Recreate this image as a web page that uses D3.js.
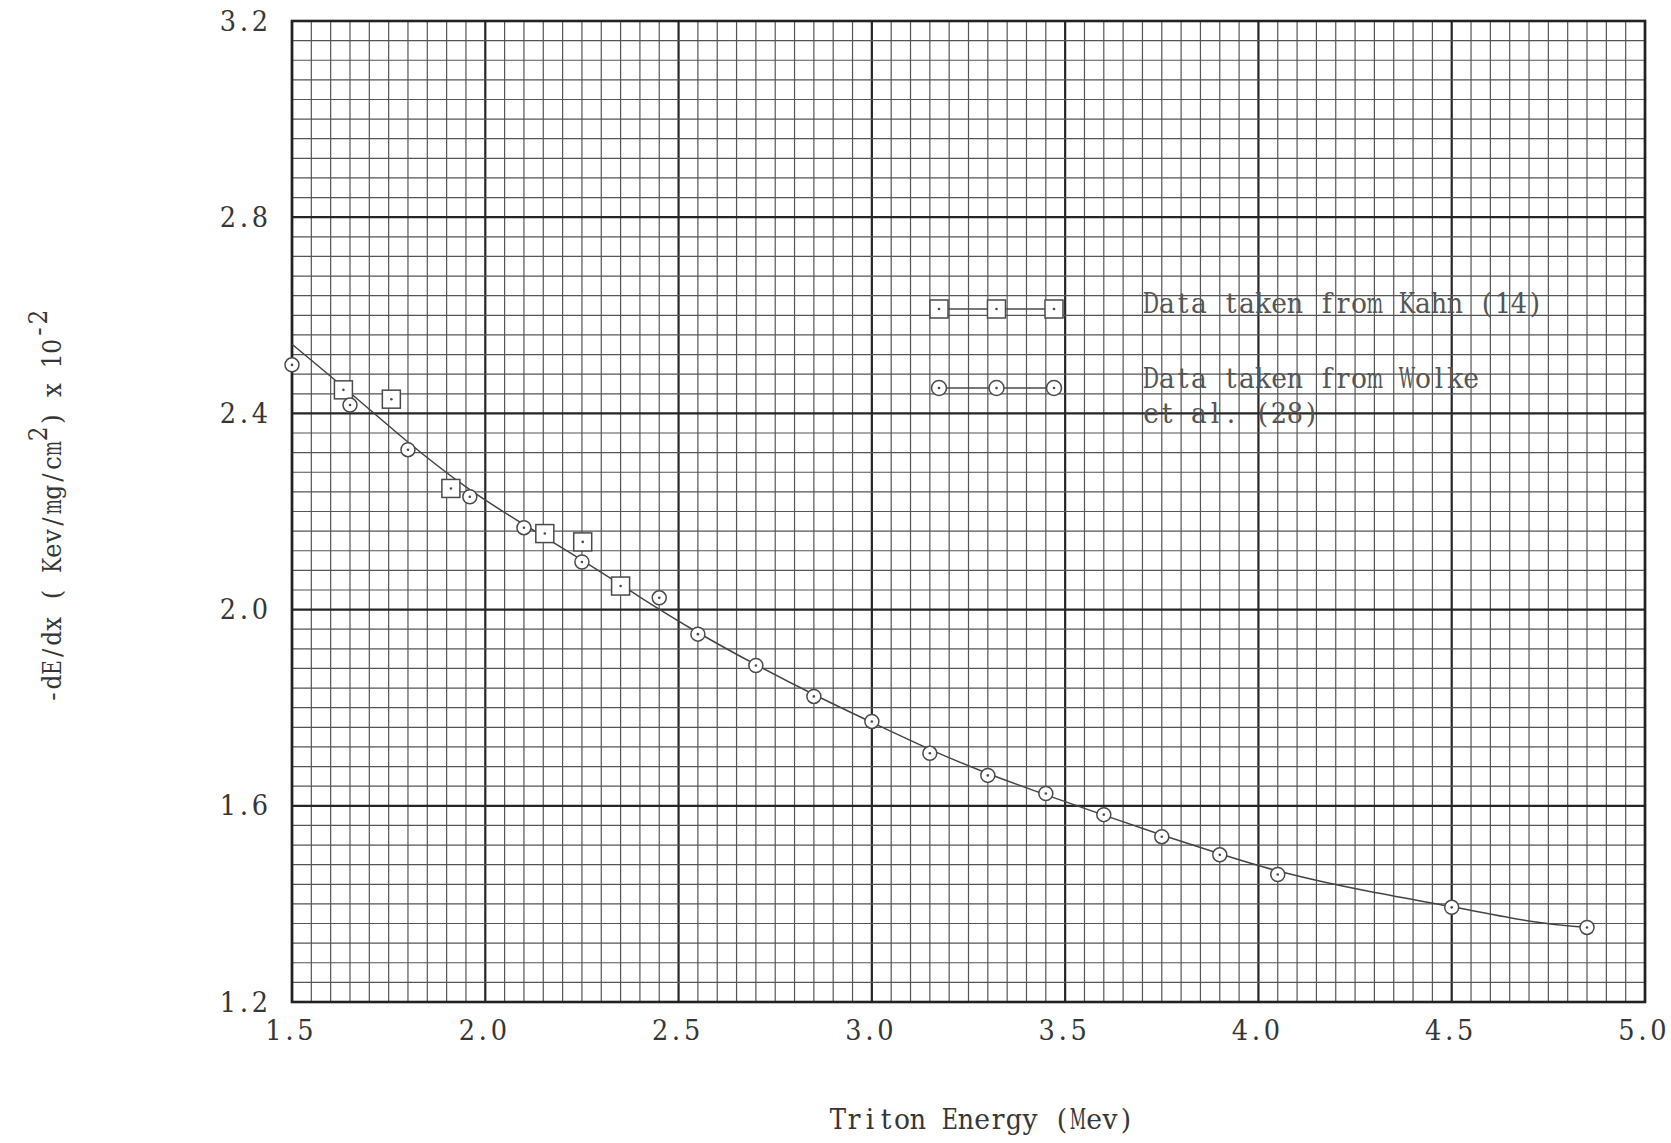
<!DOCTYPE html>
<html>
<head>
<meta charset="utf-8">
<script src="https://cdn.jsdelivr.net/npm/d3@7"></script>
<style>
  html, body { margin: 0; padding: 0; background: #ffffff; }
  svg { display: block; }
</style>
</head>
<body>
<svg id="chart" width="1671" height="1143"></svg>
<script>
// Stopping power of tritons, -dE/dx (Kev/mg/cm^2 x 10^-2) versus energy (Mev)

// Wolke et al. (28): circles
const wolkeEnergy = [1.50, 1.65, 1.80, 1.96, 2.10, 2.25, 2.45, 2.55, 2.70, 2.85, 3.00, 3.15, 3.30, 3.45, 3.60, 3.75, 3.90, 4.05, 4.50, 4.85];
const wolkeDedx   = [2.499, 2.417, 2.326, 2.230, 2.167, 2.097, 2.024, 1.950, 1.886, 1.823, 1.772, 1.707, 1.662, 1.625, 1.582, 1.537, 1.500, 1.460, 1.393, 1.352];

// Kahn (14): squares
const kahnEnergy = [1.633, 1.757, 1.911, 2.154, 2.252, 2.350];
const kahnDedx   = [2.448, 2.429, 2.247, 2.155, 2.138, 2.048];

// Smooth curve drawn through the data
const curveEnergy = [1.50, 1.65, 1.80, 1.95, 2.10, 2.25, 2.40, 2.55, 2.70, 2.85, 3.00, 3.15, 3.30, 3.45, 3.60, 3.75, 3.90, 4.05, 4.28, 4.50, 4.72, 4.84];
const curveDedx   = [2.541, 2.443, 2.340, 2.247, 2.173, 2.102, 2.025, 1.952, 1.887, 1.826, 1.770, 1.714, 1.665, 1.622, 1.581, 1.540, 1.502, 1.465, 1.425, 1.395, 1.360, 1.353];

// Axes and labels
const xTicks = [1.5, 2.0, 2.5, 3.0, 3.5, 4.0, 4.5, 5.0];
const yTicks = [1.2, 1.6, 2.0, 2.4, 2.8, 3.2];
const xTitle = "Triton Energy (Mev)";
// y title pieces: [text, raised?]
const yTitleParts = [["-dE/dx ( Kev/mg/cm", false], ["2", true], [") x 10", false], ["-2", true]];
const legendKahn  = ["Data taken from Kahn (14)"];
const legendWolke = ["Data taken from Wolke", "et al. (28)"];

const plot = { left: 292, right: 1645, top: 21, bottom: 1002 };
const svg = d3.select("#chart");

const x = d3.scaleLinear().domain([1.5, 5.0]).range([plot.left, plot.right]);
const y = d3.scaleLinear().domain([1.2, 3.2]).range([plot.bottom, plot.top]);

// ---- graph-paper grid: 0.05 Mev by 0.04 divisions, heavy rule every 10 ----
const xMinor = d3.range(0, 71).map(i => +(1.5 + i * 0.05).toFixed(3));
const yMinor = d3.range(0, 51).map(i => +(1.2 + i * 0.04).toFixed(3));

const grid = svg.append("g");
grid.selectAll("line.vx").data(xMinor.map((v, i) => ({ v, i })))
  .join("line")
  .attr("x1", d => x(d.v)).attr("x2", d => x(d.v))
  .attr("y1", plot.top).attr("y2", plot.bottom)
  .attr("stroke", d => d.i % 10 === 0 ? "#262626" : "#555")
  .attr("stroke-width", d => d.i % 10 === 0 ? 2.2 : 1.2);
grid.selectAll("line.hy").data(yMinor.map((v, i) => ({ v, i })))
  .join("line")
  .attr("y1", d => y(d.v)).attr("y2", d => y(d.v))
  .attr("x1", plot.left).attr("x2", plot.right)
  .attr("stroke", d => d.i % 10 === 0 ? "#262626" : "#555")
  .attr("stroke-width", d => d.i % 10 === 0 ? 2.2 : 1.2);
grid.append("rect")
  .attr("x", plot.left).attr("y", plot.top)
  .attr("width", plot.right - plot.left).attr("height", plot.bottom - plot.top)
  .attr("fill", "none").attr("stroke", "#222").attr("stroke-width", 2.6);

// ---- typewriter lettering: every character sits in a fixed-pitch cell ----
const FACE = "DejaVu Serif, Liberation Serif, serif";
const PITCH = 16, FONT = 28, INK = "#363636";

// parts: array of [string, raised]; anchor: start | middle | end
function typewrite(parent, parts, opts) {
  const pitch = opts.pitch || PITCH, size = opts.size || FONT, rise = opts.rise || 0;
  const cell = pitch * 1.02, maxSx = 0.95;
  const chars = [];
  parts.forEach(([s, raised]) => { for (const c of s) chars.push({ c, raised }); });
  const total = chars.length * pitch;
  const off = opts.anchor === "middle" ? -total / 2 : opts.anchor === "end" ? -total : 0;
  const g = parent.append("g");
  if (opts.transform) g.attr("transform", opts.transform);
  chars.forEach((ch, i) => {
    if (ch.c === " ") return;
    const t = g.append("text")
      .attr("font-family", FACE).attr("font-size", size)
      .attr("fill", opts.fill || INK).attr("text-anchor", "middle")
      .text(ch.c);
    const w = t.node().getComputedTextLength() || pitch;
    const s = Math.min(maxSx, cell / w);
    const cx = off + i * pitch + pitch / 2;
    const by = (opts.baseline || 0) - (ch.raised ? rise : 0);
    t.attr("transform", `translate(${cx},${by}) scale(${s},1)`);
  });
  return g;
}

// x tick labels (positions from the axis ticks)
const xAxis = svg.append("g")
  .attr("transform", `translate(0,${plot.bottom + 38})`)
  .call(d3.axisBottom(x).tickValues(xTicks).tickSize(0).tickFormat(d3.format(".1f")));
xAxis.select(".domain").remove();
xAxis.selectAll(".tick").each(function (d) {
  const tick = d3.select(this);
  tick.select("text").remove();
  typewrite(tick, [[d3.format(".1f")(d), false]], { anchor: "middle", transform: "translate(-3,0)" });
});

// y tick labels
const yAxis = svg.append("g")
  .attr("transform", `translate(${plot.left - 24},0)`)
  .call(d3.axisLeft(y).tickValues(yTicks).tickSize(0).tickFormat(d3.format(".1f")));
yAxis.select(".domain").remove();
yAxis.selectAll(".tick").each(function (d) {
  const tick = d3.select(this);
  tick.select("text").remove();
  typewrite(tick, [[d3.format(".1f")(d), false]], { anchor: "end", baseline: 9 });
});

// x title
typewrite(svg, [[xTitle, false]], { anchor: "middle", transform: "translate(982,1129)" });

// y title with superscripts, reading upward
typewrite(svg, yTitleParts,
  { anchor: "start", pitch: 14.6, size: 26, rise: 14, transform: "translate(61,704) rotate(-90)" });

// ---- curve ----
const curvePts = curveEnergy.map((e, i) => [e, curveDedx[i]]);
svg.append("path")
  .datum(curvePts)
  .attr("fill", "none").attr("stroke", "#444").attr("stroke-width", 1.5)
  .attr("d", d3.line().x(d => x(d[0])).y(d => y(d[1])).curve(d3.curveBasis));

// ---- markers ----
const MARK = "#4a4a4a";
const R = 7, HS = 9;

function circleMark(g, cx, cy, r) {
  g.append("circle").attr("cx", cx).attr("cy", cy).attr("r", r)
    .attr("fill", "#fff").attr("stroke", MARK).attr("stroke-width", 1.5);
  g.append("circle").attr("cx", cx).attr("cy", cy).attr("r", 1.3).attr("fill", MARK);
}
function squareMark(g, cx, cy, h) {
  g.append("rect").attr("x", cx - h).attr("y", cy - h).attr("width", 2 * h).attr("height", 2 * h)
    .attr("fill", "#fff").attr("stroke", MARK).attr("stroke-width", 1.5);
  g.append("circle").attr("cx", cx).attr("cy", cy).attr("r", 1.3).attr("fill", MARK);
}

const marks = svg.append("g");
kahnEnergy.forEach((e, i) => squareMark(marks, x(e), y(kahnDedx[i]), HS));
wolkeEnergy.forEach((e, i) => circleMark(marks, x(e), y(wolkeDedx[i]), R));

// ---- legend ----
const legend = svg.append("g");
const legX = [939, 996.5, 1054];
const rowKahn = 309, rowWolke = 388;

legend.append("line").attr("x1", legX[0]).attr("x2", legX[2])
  .attr("y1", rowKahn).attr("y2", rowKahn).attr("stroke", MARK).attr("stroke-width", 1.4);
legX.forEach(lx => squareMark(legend, lx, rowKahn, 9));

legend.append("line").attr("x1", legX[0]).attr("x2", legX[2])
  .attr("y1", rowWolke).attr("y2", rowWolke).attr("stroke", MARK).attr("stroke-width", 1.4);
legX.forEach(lx => circleMark(legend, lx, rowWolke, 7.5));

const LEG_INK = "#555";
legendKahn.forEach((t, i) => {
  typewrite(legend, [[t, false]], { anchor: "start", fill: LEG_INK, transform: `translate(1143,${313 + i * 34})` });
});
legendWolke.forEach((t, i) => {
  typewrite(legend, [[t, false]], { anchor: "start", fill: LEG_INK, transform: `translate(1143,${388 + i * 35})` });
});
</script>
</body>
</html>
